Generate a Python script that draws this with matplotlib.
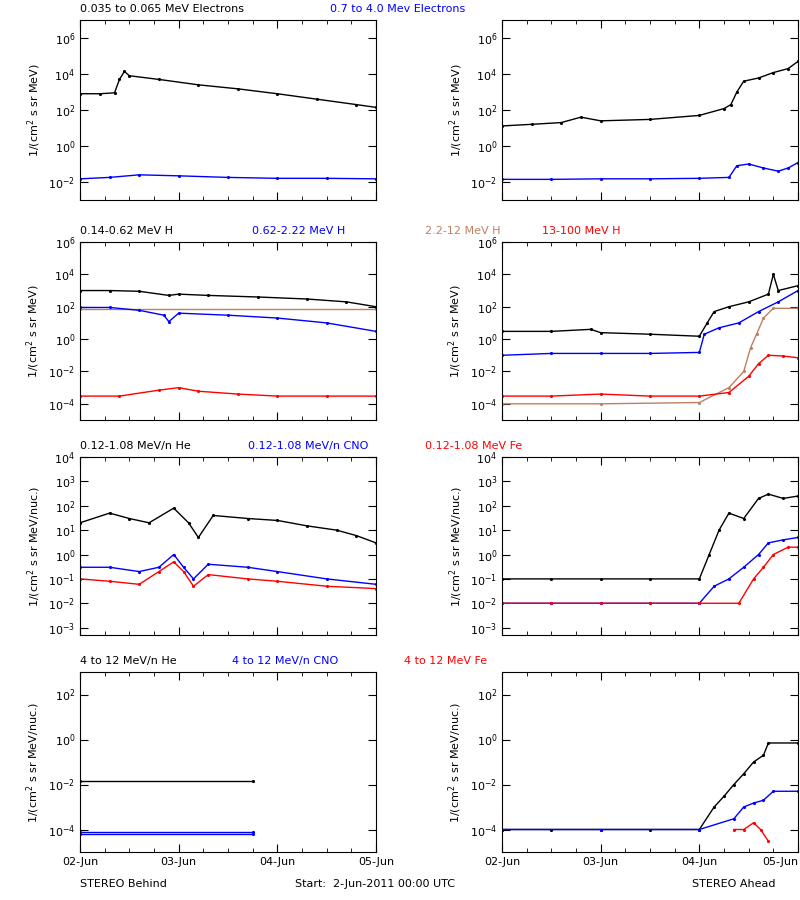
import numpy as np
import matplotlib
matplotlib.use("Agg")
import matplotlib.pyplot as plt
from matplotlib.ticker import NullLocator, FixedLocator

plt.rcParams['font.family'] = ['DejaVu Sans']
plt.rcParams['font.size'] = 8

BROWN = "#c08060"

# time in days from 2-Jun-2011 00:00 UTC
# --- row 1: electrons ---
e_lo_behind_t = [0, 0.2, 0.35, 0.4, 0.45, 0.5, 0.8, 1.2, 1.6, 2.0, 2.4, 2.8, 3.0]
e_lo_behind_v = [8e2, 8e2, 9e2, 5e3, 1.4e4, 8e3, 5e3, 2.5e3, 1.5e3, 8e2, 4e2, 2e2, 1.4e2]
e_hi_behind_t = [0, 0.3, 0.6, 1.0, 1.5, 2.0, 2.5, 3.0]
e_hi_behind_v = [1.5e-2, 1.8e-2, 2.5e-2, 2.2e-2, 1.8e-2, 1.6e-2, 1.6e-2, 1.5e-2]
e_lo_ahead_t = [0, 0.3, 0.6, 0.8, 1.0, 1.5, 2.0, 2.25, 2.32, 2.38, 2.45, 2.6, 2.75, 2.9, 3.0]
e_lo_ahead_v = [1.3e1, 1.6e1, 2e1, 4e1, 2.5e1, 3e1, 5e1, 1.2e2, 2e2, 1e3, 4e3, 6e3, 1.2e4, 2e4, 5e4]
e_hi_ahead_t = [0, 0.5, 1.0, 1.5, 2.0, 2.3, 2.38, 2.5, 2.65, 2.8, 2.9, 3.0]
e_hi_ahead_v = [1.4e-2, 1.4e-2, 1.5e-2, 1.5e-2, 1.6e-2, 1.8e-2, 8e-2, 1e-1, 6e-2, 4e-2, 6e-2, 1.2e-1]

# --- row 2: protons ---
h1_behind_t = [0, 0.3, 0.6, 0.9, 1.0, 1.3, 1.8, 2.3, 2.7, 3.0]
h1_behind_v = [1e3, 1e3, 9e2, 5e2, 6e2, 5e2, 4e2, 3e2, 2e2, 1e2]
h2_behind_t = [0, 0.3, 0.6, 0.85, 0.9, 1.0, 1.5, 2.0, 2.5, 3.0]
h2_behind_v = [9e1, 9e1, 6e1, 3e1, 1.2e1, 4e1, 3e1, 2e1, 1e1, 3]
h3_behind_t = [0, 3.0]
h3_behind_v = [7e1, 7e1]
h4_behind_t = [0, 0.4, 0.8, 1.0, 1.2, 1.6, 2.0, 2.5, 3.0]
h4_behind_v = [3e-4, 3e-4, 7e-4, 1e-3, 6e-4, 4e-4, 3e-4, 3e-4, 3e-4]
h1_ahead_t = [0, 0.5, 0.9, 1.0, 1.5, 2.0, 2.08, 2.15, 2.3, 2.5, 2.7, 2.75, 2.8, 3.0]
h1_ahead_v = [3, 3, 4, 2.5, 2, 1.5, 1e1, 5e1, 1e2, 2e2, 6e2, 1e4, 1e3, 2e3]
h2_ahead_t = [0, 0.5, 1.0, 1.5, 2.0, 2.05, 2.2, 2.4, 2.6, 2.8, 3.0]
h2_ahead_v = [1e-1, 1.3e-1, 1.3e-1, 1.3e-1, 1.5e-1, 2, 5, 1e1, 5e1, 2e2, 1e3]
h3_ahead_t = [0, 1.0, 2.0, 2.3, 2.45, 2.52, 2.58, 2.65, 2.75, 3.0]
h3_ahead_v = [1e-4, 1e-4, 1.2e-4, 1e-3, 1e-2, 3e-1, 2, 2e1, 8e1, 8e1]
h4_ahead_t = [0, 0.5, 1.0, 1.5, 2.0, 2.3, 2.5, 2.6, 2.7, 2.85, 3.0]
h4_ahead_v = [3e-4, 3e-4, 4e-4, 3e-4, 3e-4, 5e-4, 5e-3, 3e-2, 1e-1, 9e-2, 7e-2]

# --- row 3: 0.12-1.08 MeV/n ions ---
he_lo_behind_t = [0, 0.3, 0.5, 0.7, 0.95, 1.1, 1.2, 1.35, 1.7, 2.0, 2.3, 2.6, 2.8, 3.0]
he_lo_behind_v = [2e1, 5e1, 3e1, 2e1, 8e1, 2e1, 5, 4e1, 3e1, 2.5e1, 1.5e1, 1e1, 6, 3]
cno_lo_behind_t = [0, 0.3, 0.6, 0.8, 0.95, 1.05, 1.15, 1.3, 1.7, 2.0, 2.5, 3.0]
cno_lo_behind_v = [3e-1, 3e-1, 2e-1, 3e-1, 1, 3e-1, 1e-1, 4e-1, 3e-1, 2e-1, 1e-1, 6e-2]
fe_lo_behind_t = [0, 0.3, 0.6, 0.8, 0.95, 1.05, 1.15, 1.3, 1.7, 2.0, 2.5, 3.0]
fe_lo_behind_v = [1e-1, 8e-2, 6e-2, 2e-1, 5e-1, 2e-1, 5e-2, 1.5e-1, 1e-1, 8e-2, 5e-2, 4e-2]
he_lo_ahead_t = [0, 0.5, 1.0, 1.5, 2.0, 2.1, 2.2, 2.3, 2.45, 2.6, 2.7, 2.85, 3.0]
he_lo_ahead_v = [1e-1, 1e-1, 1e-1, 1e-1, 1e-1, 1, 1e1, 5e1, 3e1, 2e2, 3e2, 2e2, 2.5e2]
cno_lo_ahead_t = [0, 0.5, 1.0, 1.5, 2.0, 2.15, 2.3, 2.45, 2.6, 2.7, 2.85, 3.0]
cno_lo_ahead_v = [1e-2, 1e-2, 1e-2, 1e-2, 1e-2, 5e-2, 1e-1, 3e-1, 1, 3, 4, 5]
fe_lo_ahead_t = [0, 0.5, 1.0, 1.5, 2.0, 2.4, 2.55, 2.65, 2.75, 2.9, 3.0]
fe_lo_ahead_v = [1e-2, 1e-2, 1e-2, 1e-2, 1e-2, 1e-2, 1e-1, 3e-1, 1, 2, 2]

# --- row 4: 4 to 12 MeV/n ions ---
he_hi_behind_t = [0, 1.75]
he_hi_behind_v = [1.5e-2, 1.5e-2]
cno_hi_behind_t = [0, 1.75]
cno_hi_behind_v = [8e-5, 8e-5]
cno2_hi_behind_v = [6e-5, 6e-5]
he_hi_ahead_t = [0, 0.5, 1.0, 1.5, 2.0, 2.15, 2.25, 2.35, 2.45, 2.55, 2.65, 2.7, 3.0]
he_hi_ahead_v = [1e-4, 1e-4, 1e-4, 1e-4, 1e-4, 1e-3, 3e-3, 1e-2, 3e-2, 1e-1, 2e-1, 7e-1, 7e-1]
cno_hi_ahead_t = [0, 1.0, 2.0, 2.35, 2.45, 2.55, 2.65, 2.75, 3.0]
cno_hi_ahead_v = [1e-4, 1e-4, 1e-4, 3e-4, 1e-3, 1.5e-3, 2e-3, 5e-3, 5e-3]
fe_hi_ahead_t = [2.35, 2.45, 2.55, 2.62, 2.7]
fe_hi_ahead_v = [1e-4, 1e-4, 2e-4, 1e-4, 3e-5]

day_labels = ["02-Jun", "03-Jun", "04-Jun", "05-Jun"]
ylims = [(1e-3, 1e7), (1e-5, 1e6), (5e-4, 1e4), (1e-5, 1e3)]
ystep = [2, 2, 1, 2]
ylabels = ["1/(cm$^2$ s sr MeV)", "1/(cm$^2$ s sr MeV)",
           "1/(cm$^2$ s sr MeV/nuc.)", "1/(cm$^2$ s sr MeV/nuc.)"]
titles = [
    [("0.035 to 0.065 MeV Electrons", "black"), ("0.7 to 4.0 Mev Electrons", "blue")],
    [("0.14-0.62 MeV H", "black"), ("0.62-2.22 MeV H", "blue"),
     ("2.2-12 MeV H", BROWN), ("13-100 MeV H", "red")],
    [("0.12-1.08 MeV/n He", "black"), ("0.12-1.08 MeV/n CNO", "blue"),
     ("0.12-1.08 MeV Fe", "red")],
    [("4 to 12 MeV/n He", "black"), ("4 to 12 MeV/n CNO", "blue"),
     ("4 to 12 MeV Fe", "red")],
]
title_x = [[80, 330], [80, 252, 425, 542], [80, 248, 425], [80, 232, 404]]

series = [
    [[(e_lo_behind_t, e_lo_behind_v, "black"), (e_hi_behind_t, e_hi_behind_v, "blue")],
     [(e_lo_ahead_t, e_lo_ahead_v, "black"), (e_hi_ahead_t, e_hi_ahead_v, "blue")]],
    [[(h3_behind_t, h3_behind_v, BROWN), (h1_behind_t, h1_behind_v, "black"),
      (h2_behind_t, h2_behind_v, "blue"), (h4_behind_t, h4_behind_v, "red")],
     [(h1_ahead_t, h1_ahead_v, "black"), (h2_ahead_t, h2_ahead_v, "blue"),
      (h3_ahead_t, h3_ahead_v, BROWN), (h4_ahead_t, h4_ahead_v, "red")]],
    [[(he_lo_behind_t, he_lo_behind_v, "black"), (cno_lo_behind_t, cno_lo_behind_v, "blue"),
      (fe_lo_behind_t, fe_lo_behind_v, "red")],
     [(he_lo_ahead_t, he_lo_ahead_v, "black"), (cno_lo_ahead_t, cno_lo_ahead_v, "blue"),
      (fe_lo_ahead_t, fe_lo_ahead_v, "red")]],
    [[(he_hi_behind_t, he_hi_behind_v, "black"), (cno_hi_behind_t, cno_hi_behind_v, "blue"),
      (cno_hi_behind_t, cno2_hi_behind_v, "blue")],
     [(he_hi_ahead_t, he_hi_ahead_v, "black"), (cno_hi_ahead_t, cno_hi_ahead_v, "blue"),
      (fe_hi_ahead_t, fe_hi_ahead_v, "red")]],
]

fig = plt.figure(figsize=(8, 9), dpi=100)
rows_px = [(20, 200), (242, 420), (457, 635), (672, 852)]
cols_px = [80, 502]

for r, (top, bot) in enumerate(rows_px):
    for c, x0 in enumerate(cols_px):
        ax = fig.add_axes([x0 / 800, 1 - bot / 900, 296 / 800, (bot - top) / 900])
        for t, v, col in series[r][c]:
            ax.plot(t, v, color=col, lw=1.0, marker=".", ms=2.5)
        ax.set_yscale("log")
        ax.set_xlim(0, 3)
        ax.set_ylim(*ylims[r])
        lo, hi = np.log10(ylims[r])
        exps = [e for e in range(int(np.ceil(lo)), int(hi) + 1) if e % ystep[r] == 0]
        ax.yaxis.set_major_locator(FixedLocator([10.0 ** e for e in exps]))
        ax.yaxis.set_major_formatter(plt.FuncFormatter(lambda y, p: f"$10^{{{int(round(np.log10(y)))}}}$"))
        ax.yaxis.set_minor_locator(NullLocator())
        ax.set_xticks([0, 1, 2, 3])
        ax.set_xticks(np.arange(0, 3.01, 0.25), minor=True)
        ax.tick_params(direction="in", which="both", top=True, right=True)
        ax.tick_params(which="major", length=6)
        ax.tick_params(which="minor", length=3)
        if r == 3:
            labels = ax.set_xticklabels(day_labels)
            if c == 1:
                labels[-1].set_horizontalalignment("right")
        else:
            ax.set_xticklabels([])
        ax.set_ylabel(ylabels[r])

    for (txt, col), xp in zip(titles[r], title_x[r]):
        fig.text(xp / 800, 1 - (top - 11) / 900, txt, color=col, va="center", ha="left")

fig.text(80 / 800, 1 - 884 / 900, "STEREO Behind", va="center", ha="left")
fig.text(295 / 800, 1 - 884 / 900, "Start:  2-Jun-2011 00:00 UTC", va="center", ha="left")
fig.text(775 / 800, 1 - 884 / 900, "STEREO Ahead", va="center", ha="right")

fig.savefig("out.png", dpi=100)
